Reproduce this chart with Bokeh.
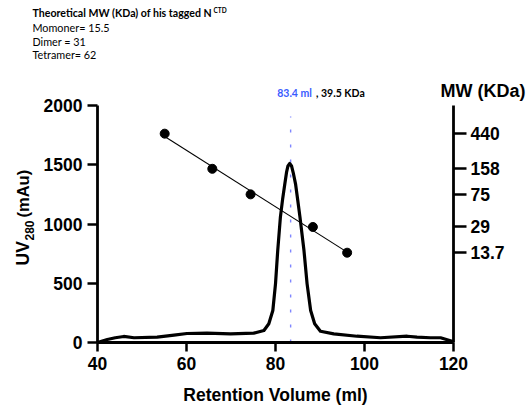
import numpy as np
from math import pi
from bokeh.plotting import figure
from bokeh.models import (Range1d, LinearAxis, LogScale, FixedTicker, Label)
from bokeh.embed import file_html
from bokeh.resources import INLINE

# ---- data ----
# chromatogram (Retention volume ml, UV280 mAu)
vol = [40, 42.2, 44.0, 45.9, 48.2, 53.4, 57.2, 60.1, 64.6, 69.9, 75.1, 77.4, 78.5,
       79.4, 80.0, 80.5, 81.1, 81.6, 82.1, 82.5, 82.8, 83.2, 83.6, 84.0, 84.5, 85.0,
       85.5, 86.4, 87.1, 87.9, 88.8, 90.1, 93.1, 98.3, 103.6, 109.6, 111.8, 114.8,
       117.1, 119.7, 120]
uv = [0, 25, 40, 51, 40, 45, 62, 76, 79, 73, 79, 101, 158,
      270, 495, 776, 1058, 1210, 1339, 1440, 1490, 1510, 1490, 1430, 1339, 1200,
      1058, 776, 495, 270, 158, 95, 73, 53, 40, 53, 45, 40,
      40, 11, 0]

# calibration standards
std_vol = [55.1, 65.8, 74.4, 88.4, 96.1]
std_mw = [440, 158, 75, 29, 13.7]
mw_ticks = [13.7, 29, 75, 158, 440]
mw_tick_labels = ["13.7", "29", "75", "158", "440"]

peak_vol = 83.4
peak_text = "83.4 ml"
peak_mw_text = ", 39.5 KDa"

x_ticks = [40, 60, 80, 100, 120]
y_ticks = [0, 500, 1000, 1500, 2000]

W, H = 531, 407
FL, FR, FT, FB = 97, 453, 105, 342  # where the axes box sits, figure px

X0, X1, Y0, Y1 = 40, 120, 0, 2000
M0, M1 = 1, 1000

def dx(fx):
    return X0 + (fx - FL) * (X1 - X0) / (FR - FL)

def dy(fy):
    return Y0 + (FB - fy) * (Y1 - Y0) / (FB - FT)

def dm(fy):
    lo, hi = np.log10(M0), np.log10(M1)
    return 10 ** (lo + (FB - fy) * (hi - lo) / (FB - FT))

p = figure(width=W, height=H, output_backend="svg", toolbar_location=None,
           x_range=Range1d(dx(0), dx(W)), y_range=Range1d(dy(H), dy(0)),
           min_border_left=0, min_border_right=0, min_border_top=0, min_border_bottom=0,
           x_axis_type=None, y_axis_type=None)
p.outline_line_color = None
p.xgrid.visible = False
p.ygrid.visible = False
p.background_fill_color = "white"
p.border_fill_color = "white"

p.extra_y_ranges = {"mw": Range1d(dm(H), dm(0))}
p.extra_y_scales = {"mw": LogScale()}

def style_axis(ax, tick_out):
    ax.axis_line_width = 2.8
    ax.major_tick_line_width = 2.5
    ax.major_tick_out = tick_out
    ax.major_tick_in = 0
    ax.minor_tick_line_color = None
    ax.major_label_text_font = "Liberation Sans"
    ax.major_label_text_font_style = "bold"
    ax.major_label_text_font_size = "17.5px"
    ax.major_label_text_color = "black"

xa = LinearAxis(ticker=FixedTicker(ticks=x_ticks), fixed_location=Y0, bounds=(X0, X1))
style_axis(xa, 9)
xa.major_label_standoff = 5
p.add_layout(xa, "below")

ya = LinearAxis(ticker=FixedTicker(ticks=y_ticks), fixed_location=X0, bounds=(Y0, Y1))
style_axis(ya, 10)
ya.major_label_standoff = 5
p.add_layout(ya, "left")

ra = LinearAxis(y_range_name="mw", ticker=FixedTicker(ticks=mw_ticks),
                fixed_location=X1, bounds=(M0, M1),
                major_label_overrides={t: l for t, l in zip(mw_ticks, mw_tick_labels)})
style_axis(ra, 13)
ra.major_label_standoff = 4
p.add_layout(ra, "right")

# dotted marker line at peak
p.segment(x0=[peak_vol], y0=[0], x1=[peak_vol], y1=[1907], line_color="#7f86ff",
          line_width=1.4, line_dash="3 12")

# chromatogram
p.line(vol, uv, line_color="black", line_width=3.2, line_join="round")

# calibration fit (log-linear) over data range
coef = np.polyfit(std_vol, np.log10(std_mw), 1)
fx = np.array([min(std_vol), max(std_vol)])
p.line(fx, 10 ** np.polyval(coef, fx), y_range_name="mw", line_color="black", line_width=1.1)
p.scatter(std_vol, std_mw, y_range_name="mw", size=9, color="black")

def lab(text, fx_, fy_, size, style="bold", color="black", font="Liberation Sans",
        align="left", angle=0.0):
    p.add_layout(Label(x=dx(fx_), y=dy(fy_), text=text, text_font=font,
                       text_font_size=size, text_font_style=style, text_color=color,
                       text_align=align, text_baseline="middle", angle=angle))

# axis titles
lab("Retention Volume (ml)", (FL + FR) / 2, 394, "17.5px", align="center")
lab("MW (KDa)", 440, 90, "18px")
lab("UV", 22.5, 265, "17.5px", angle=pi / 2)
lab("280", 29, 240, "12px", angle=pi / 2)
lab("(mAu)", 22.5, 217, "16.5px", angle=pi / 2)

# peak annotation
lab(peak_text, 276.7, 92.7, "10.5px", color="#3a5cff", font="Lato")
lab(peak_mw_text, 315.5, 92.7, "10.5px", font="Lato")

# top-left notes
lab("Theoretical MW (KDa) of his tagged N", 32, 12.7, "10.6px", font="Lato")
lab("CTD", 213, 10.3, "6.5px", font="Lato")
lab("Momoner= 15.5", 32, 26.7, "10.8px", style="normal", font="Lato")
lab("Dimer = 31", 32, 41.2, "10.8px", style="normal", font="Lato")
lab("Tetramer= 62", 32, 54.3, "10.8px", style="normal", font="Lato")

open("out.html", "w").write(file_html(p, INLINE))
